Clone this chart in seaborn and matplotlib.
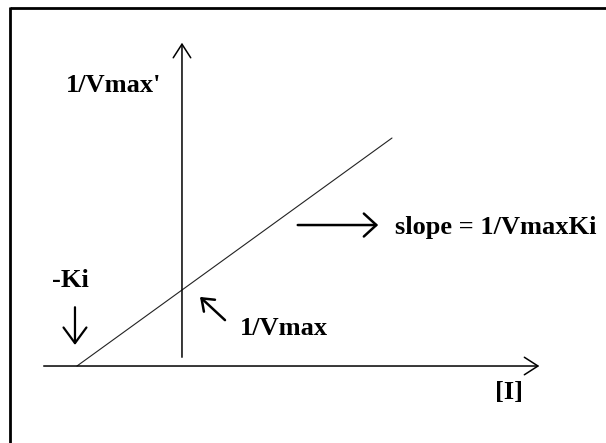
import matplotlib
matplotlib.use("Agg")
import matplotlib.pyplot as plt
import seaborn as sns
import pandas as pd

# Dixon plot: 1/V against inhibitor concentration [I]
ki = 1.0
vmax = 1.0
inhibitor_conc = [-1.0, 0.0, 2.0]          # [I]; line meets the axis at -Ki
inv_velocity = [0.0, 1.0, 3.0]             # 1/V; intercept 1/Vmax at [I] = 0

y_axis_label = "1/Vmax'"
x_axis_label = "[I]"
slope_label = "slope = 1/VmaxKi"
intercept_label = "1/Vmax"
ki_label = "-Ki"

sns.set_theme(style="white")
plt.rcParams["font.family"] = ["Liberation Serif", "DejaVu Serif"]

fig = plt.figure(figsize=(6.06, 4.43), dpi=100)
ax = fig.add_axes([0, 0, 1, 1])
ax.set_xlim(-1.733, 4.038)
ax.set_ylim(-1.013, 4.816)
ax.axis("off")

df = pd.DataFrame({"I": inhibitor_conc, "invV": inv_velocity})
sns.lineplot(data=df, x="I", y="invV", ax=ax, color="#222222", lw=0.8)

axis_kw = dict(arrowstyle="->,head_length=0.7,head_width=0.45", color="black",
               lw=1.1, mutation_scale=14)

# x axis and y axis with open arrowheads
ax.annotate("", xy=(3.43, 0.0), xytext=(-1.343, 0.0), arrowprops=axis_kw)
ax.annotate("", xy=(0.0, 4.29), xytext=(0.0, 0.079), arrowprops=axis_kw)

txt_kw = dict(fontsize=19, fontweight="bold", color="black")
ax.text(-1.105, 3.605, y_axis_label, ha="left", va="baseline", **txt_kw)
ax.text(2.98, -0.355, x_axis_label, ha="left", va="center", **txt_kw)
ax.text(2.029, 1.737, slope_label, ha="left", va="baseline", **txt_kw)
ax.text(0.552, 0.408, intercept_label, ha="left", va="baseline", **txt_kw)
ax.text(-1.238, 1.039, ki_label, ha="left", va="baseline", **txt_kw)

# pointer arrows
ax.annotate("", xy=(1.895, 1.855), xytext=(1.076, 1.855),
            arrowprops=dict(arrowstyle="->,head_length=0.6,head_width=0.55",
                            color="black", lw=1.8, mutation_scale=15))
ax.annotate("", xy=(-1.019, 0.24), xytext=(-1.019, 0.81),
            arrowprops=dict(arrowstyle="->,head_length=0.75,head_width=0.55",
                            color="black", lw=1.6, mutation_scale=15))
ax.annotate("", xy=(0.152, 0.934), xytext=(0.429, 0.579),
            arrowprops=dict(arrowstyle="->,head_length=0.6,head_width=0.45",
                            color="black", lw=1.8, mutation_scale=13))

# frame along the top and left edges
ax.plot([9.5 / 606, 1.0], [1 - 8 / 443] * 2, transform=ax.transAxes,
        color="black", lw=2.0, solid_capstyle="butt", clip_on=False)
ax.plot([10 / 606] * 2, [1 - 7 / 443, 0.0], transform=ax.transAxes,
        color="black", lw=2.0, solid_capstyle="butt", clip_on=False)

fig.savefig("out.png", dpi=100)
